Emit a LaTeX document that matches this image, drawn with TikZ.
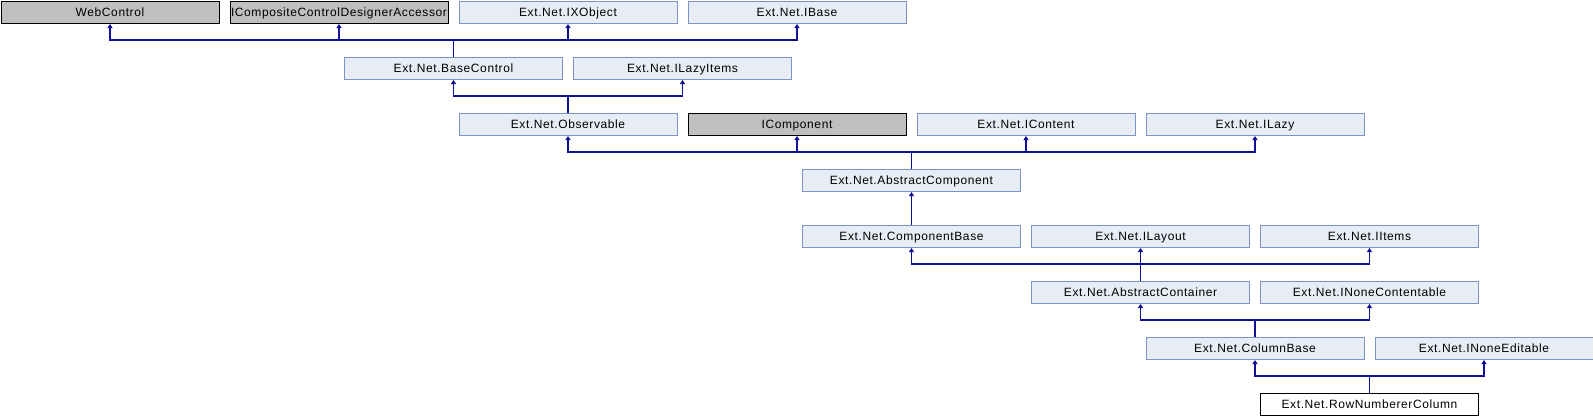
\documentclass[tikz,border=0pt]{standalone}
\usepackage{fontspec}
\setmainfont{Liberation Sans}[LetterSpace=5]
\usetikzlibrary{arrows.meta}
\definecolor{edgeblue}{RGB}{16,16,150}
\definecolor{boxfill}{RGB}{232,236,245}
\definecolor{boxline}{RGB}{124,146,200}
\definecolor{grayfill}{RGB}{191,191,191}
\tikzset{
  cls/.style={draw=boxline, fill=boxfill, line width=1pt, minimum width=218pt, minimum height=22.5pt,
    inner sep=0pt, text height=8.6pt, text depth=0pt, anchor=north west,
    font=\fontsize{12}{14}\selectfont, text=black},
  ext/.style={cls, draw=black, fill=grayfill},
  cur/.style={cls, draw=black, fill=white},
  edge/.style={draw=edgeblue, line width=1.1pt, -{Triangle[width=5pt,length=4pt]}},
}
\begin{document}
\begin{tikzpicture}[x=1pt,y=-1pt]
\useasboundingbox (0,0) rectangle (1593,416);
\def\hp{114.5}
% row 1
\node[ext] (wc)  at (0*\hp+0.5, 0.5) {WebControl};
\node[ext] (icc) at (2*\hp+0.5, 0.5) {ICompositeControlDesignerAccessor};
\node[cls] (ixo) at (4*\hp+0.5, 0.5) {Ext.Net.IXObject};
\node[cls] (ibase) at (6*\hp+0.5, 0.5) {Ext.Net.IBase};
% row 2
\node[cls] (bc) at (3*\hp+0.5, 56.5) {Ext.Net.BaseControl};
\node[cls] (ili) at (5*\hp+0.5, 56.5) {Ext.Net.ILazyItems};
% row 3
\node[cls] (obs) at (4*\hp+0.5, 112.5) {Ext.Net.Observable};
\node[ext] (icomp) at (6*\hp+0.5, 112.5) {IComponent};
\node[cls] (icont) at (8*\hp+0.5, 112.5) {Ext.Net.IContent};
\node[cls] (ilazy) at (10*\hp+0.5, 112.5) {Ext.Net.ILazy};
% row 4
\node[cls] (ac) at (7*\hp+0.5, 168.5) {Ext.Net.AbstractComponent};
% row 5
\node[cls] (cb) at (7*\hp+0.5, 224.5) {Ext.Net.ComponentBase};
\node[cls] (ilay) at (9*\hp+0.5, 224.5) {Ext.Net.ILayout};
\node[cls] (iit) at (11*\hp+0.5, 224.5) {Ext.Net.IItems};
% row 6
\node[cls] (acn) at (9*\hp+0.5, 280.5) {Ext.Net.AbstractContainer};
\node[cls] (inc) at (11*\hp+0.5, 280.5) {Ext.Net.INoneContentable};
% row 7
\node[cls] (colb) at (10*\hp+0.5, 336.5) {Ext.Net.ColumnBase};
\node[cls] (ine) at (12*\hp+0.5, 336.5) {Ext.Net.INoneEditable};
% row 8
\node[cur] (rnc) at (11*\hp+0.5, 392.5) {Ext.Net.RowNumbererColumn};
% edges
\foreach \c/\p in {bc/wc, bc/icc, bc/ixo, bc/ibase, obs/bc, obs/ili,
  ac/obs, ac/icomp, ac/icont, ac/ilazy, cb/ac, acn/cb, acn/ilay, acn/iit,
  colb/acn, colb/inc, rnc/colb, rnc/ine}
  \draw[edge] (\c.north) -- ++(0,-16.5) -| (\p.south);
\end{tikzpicture}
\end{document}
